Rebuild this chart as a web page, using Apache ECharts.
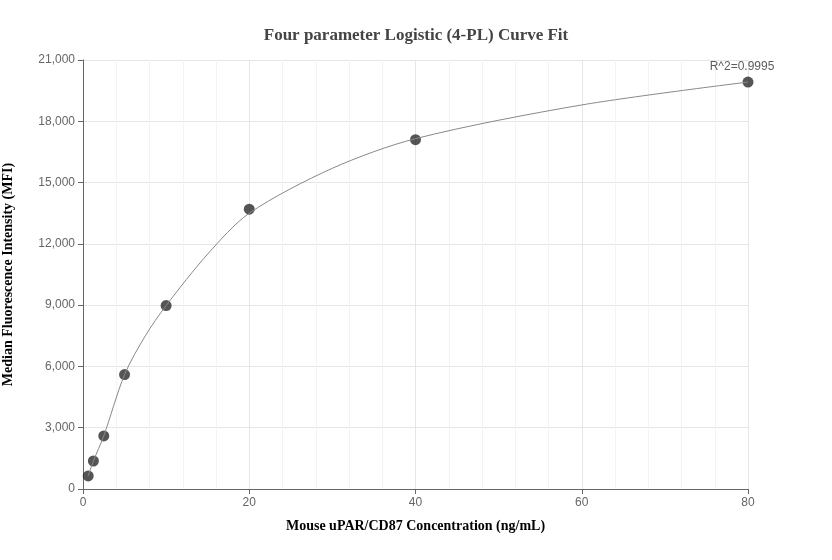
<!DOCTYPE html>
<html>
<head>
<meta charset="utf-8">
<title></title>
<script src="https://cdn.jsdelivr.net/npm/echarts@6/dist/echarts.min.js"></script>
<style>body{margin:0;background:#fff;} #chart{width:832px;height:560px;}</style>
</head>
<body>
<div id="chart"></div>
<script>
var concentration = [0.625, 1.25, 2.5, 5, 10, 20, 40, 80];
var mfi = [640, 1370, 2600, 5600, 8980, 13700, 17100, 19920];
// fitted curve
var curveX = [0.625, 1.25, 2.5, 5, 7.5, 10, 15, 20, 30, 40, 60, 80];
var curveY = [640, 1370, 2600, 5600, 7500, 8980, 11500, 13500, 15700, 17150, 18800, 19920];
var xTicks = [0, 20, 40, 60, 80];
var rSquared = 'R^2=0.9995';

var points = [];
for (var i = 0; i < concentration.length; i++) {
	points.push([concentration[i], mfi[i]]);
}
var curve = [];
for (var j = 0; j < curveX.length; j++) {
	curve.push([curveX[j], curveY[j]]);
}

var myChart = echarts.init(document.getElementById('chart'));
var option = {
	title: {
		text: 'Four parameter Logistic (4-PL) Curve Fit',
		left: 'center',
		top: 22,
		textStyle: {fontFamily: 'Liberation Serif', fontSize: 17, fontWeight: 'bold', color: '#444'}
	},
	grid: {left: 83, right: 84, top: 60, bottom: 71, containLabel: false, outerBoundsMode: 'none'},
	xAxis: {
		type: 'value', min: 0, max: 80, interval: 20,
		name: 'Mouse uPAR/CD87 Concentration (ng/mL)',
		nameLocation: 'middle', nameGap: 30,
		nameTextStyle: {fontFamily: 'Liberation Serif', fontSize: 14, fontWeight: 'bold', color: '#000'},
		axisLine: {lineStyle: {color: '#666'}},
		axisTick: {show: true, lineStyle: {color: '#666'}},
		axisLabel: {color: '#666', fontSize: 12,
			formatter: function (v) { return xTicks.indexOf(v) >= 0 ? v : ''; }},
		splitLine: {show: true, lineStyle: {color: '#e6e6e6'}},
		minorTick: {show: false, splitNumber: 5},
		minorSplitLine: {show: true, lineStyle: {color: '#f3f3f3'}}
	},
	yAxis: {
		type: 'value', min: 0, max: 21000, interval: 3000,
		name: 'Median Fluorescence Intensity (MFI)',
		nameLocation: 'middle', nameGap: 68,
		nameTextStyle: {fontFamily: 'Liberation Serif', fontSize: 14, fontWeight: 'bold', color: '#000'},
		axisLine: {show: true, lineStyle: {color: '#666'}},
		axisTick: {show: true, lineStyle: {color: '#666'}},
		axisLabel: {color: '#666', fontSize: 12,
			formatter: function (v) { return v.toLocaleString('en-US'); }},
		splitLine: {show: true, lineStyle: {color: '#e6e6e6'}}
	},
	series: [
		{
			type: 'line', data: curve, smooth: 0.3, showSymbol: false,
			lineStyle: {color: '#888', width: 1}, silent: true
		},
		{
			type: 'scatter', data: points, symbolSize: 11,
			itemStyle: {color: '#2b2b2b'},
			label: {
				show: true, position: 'top', distance: 4, offset: [-6, 0], color: '#333', fontSize: 12,
				formatter: function (p) { return p.dataIndex === points.length - 1 ? rSquared : ''; }
			}
		}
	]
};
myChart.setOption(option);
</script>
</body>
</html>
